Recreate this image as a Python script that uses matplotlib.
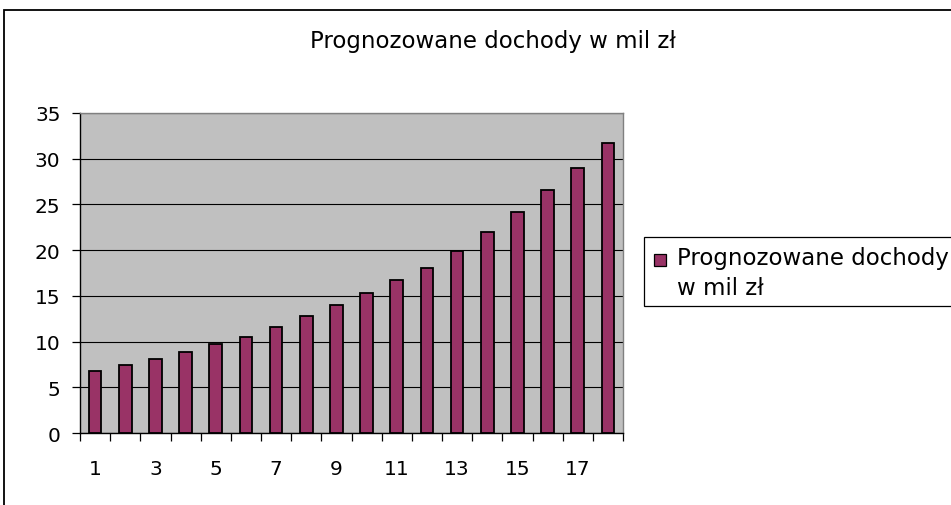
import matplotlib.pyplot as plt
import matplotlib.patches as mpatches
import numpy as np

plt.rcParams['font.family'] = ['DejaVu Sans']

W, H = 951, 506

years = list(range(1, 19))
dochody = [6.8, 7.4, 8.1, 8.9, 9.7, 10.5, 11.6, 12.8, 14.0,
           15.3, 16.7, 18.1, 19.9, 22.0, 24.2, 26.6, 29.0, 31.7]
title = "Prognozowane dochody w mil zł"
legend_lines = ["Prognozowane dochody", "w mil zł"]
bar_color = "#993366"

fig = plt.figure(figsize=(W / 100, H / 100), dpi=100)
fig.set_facecolor("white")

# chart area border (cut off at right/bottom like the screenshot)
fig.patches.append(mpatches.Rectangle((4 / W, -0.1), 1.2, 1 - 11 / H + 0.1,
                                      transform=fig.transFigure, fill=False,
                                      edgecolor="black", linewidth=1.3))

ax = fig.add_axes([80 / W, 1 - 434 / H, 543 / W, 320 / H])
ax.set_facecolor("#C0C0C0")

ax.bar(years, dochody, width=0.42, color=bar_color, edgecolor="black",
       linewidth=1.3, zorder=3)

ax.set_xlim(0.5, 18.5)
ax.set_ylim(0, 35)

ax.set_yticks(np.arange(0, 36, 5))
ax.yaxis.grid(True, color="black", linewidth=0.8, zorder=1)
ax.set_axisbelow(True)

# ticks at category boundaries, labels at every second category
ax.set_xticks(np.arange(0.5, 19, 1))
ax.set_xticklabels([])
ax.set_xticks(years[::2], minor=True)
ax.set_xticklabels([str(y) for y in years[::2]], minor=True)
ax.tick_params(axis="x", which="major", direction="out", length=6,
               width=0.9, color="black")
ax.tick_params(axis="x", which="minor", length=0, pad=19, labelsize=14.5)
ax.tick_params(axis="y", direction="out", length=6, width=0.9,
               color="black", pad=8, labelsize=14.5)

for s in ["top", "right"]:
    ax.spines[s].set_color("#808080")
    ax.spines[s].set_linewidth(1.0)
for s in ["left", "bottom"]:
    ax.spines[s].set_color("black")
    ax.spines[s].set_linewidth(1.0)

fig.text(493 / W, 1 - 48 / H, title, ha="center", va="baseline",
         fontsize=16.5)

# legend box
fig.patches.append(mpatches.Rectangle((644 / W, 1 - 307 / H), 0.5, 69 / H,
                                      transform=fig.transFigure, fill=True,
                                      facecolor="white", edgecolor="black",
                                      linewidth=0.9))
fig.patches.append(mpatches.Rectangle((654 / W, 1 - 266.5 / H), 11.5 / W,
                                      11.5 / H, transform=fig.transFigure,
                                      facecolor=bar_color, edgecolor="black",
                                      linewidth=0.9))
fig.text(677 / W, 1 - 265 / H, legend_lines[0], ha="left", va="baseline",
         fontsize=16.5)
fig.text(677 / W, 1 - 295 / H, legend_lines[1], ha="left", va="baseline",
         fontsize=16.5)

plt.savefig("out.png", dpi=100)
